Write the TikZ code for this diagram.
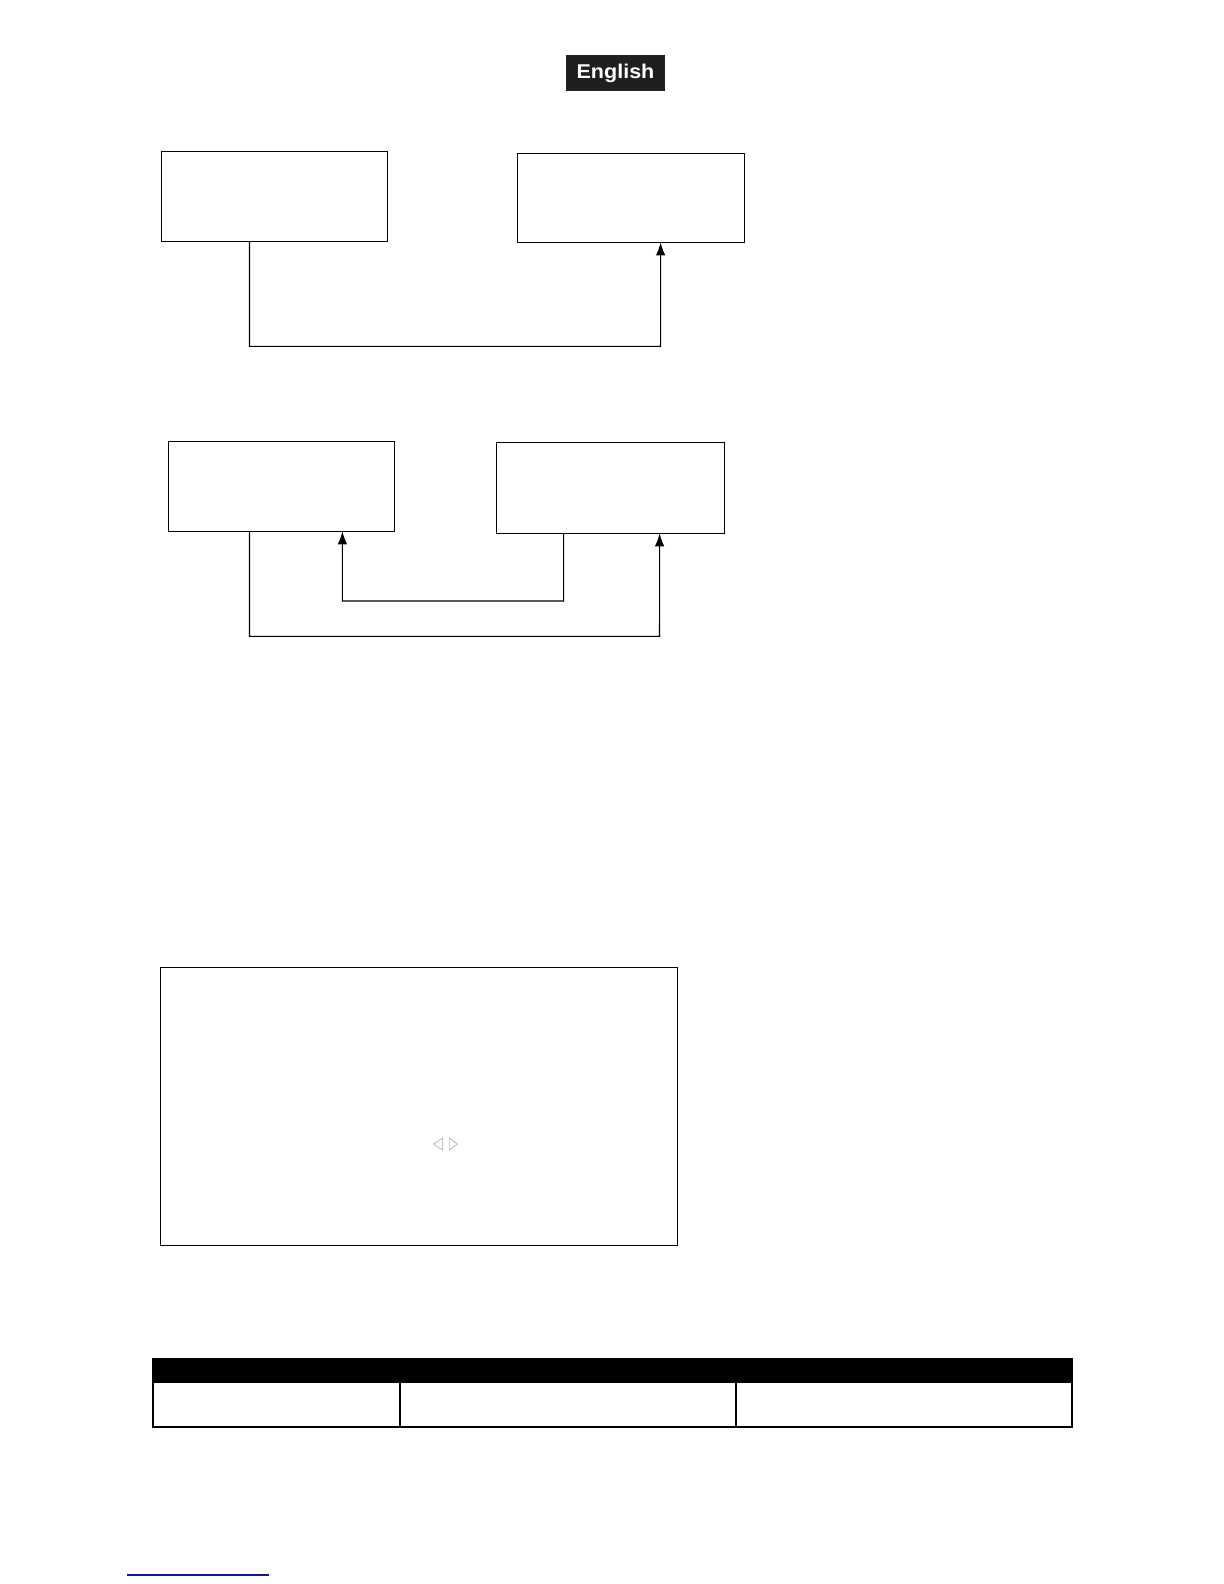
\documentclass[tikz,border=0pt]{standalone}
\usepackage{fontspec}
\setmainfont{Liberation Sans}
\usetikzlibrary{arrows.meta}
\begin{document}
\begin{tikzpicture}[x=1bp,y=-1bp,scale=1.01,
  box/.style={draw=black,line width=1.1pt,inner sep=0pt,transform shape},
  conn/.style={draw=black,line width=1.1pt},
  arr/.style={-{Latex[length=13bp,width=9.5bp]}},
  tri/.style={draw=gray!60,line width=0.7pt}]
\useasboundingbox (0,0) rectangle (1211.88,1568.32);
% header label
\node[fill=black!88,text=white,inner sep=0pt,transform shape,
  minimum width=98bp,minimum height=35.6bp] (lang) at (609.4,72.3)
  {\scalebox{1.08}[1]{\fontsize{19.8}{22}\selectfont\bfseries English}};
% first diagram
\node[box,minimum width=224bp,minimum height=89bp] (a) at (272,194.5) {};
\node[box,minimum width=225bp,minimum height=88bp] (b) at (624.5,196) {};
\coordinate (aout) at (247,239);
\coordinate (bin) at (654,240);
\draw[conn,arr] (aout) -- (247,343) -- (654,343) -- (bin);
% second diagram
\node[box,minimum width=224bp,minimum height=89bp] (c) at (279,481.5) {};
\node[box,minimum width=225bp,minimum height=90bp] (d) at (604.5,483) {};
\coordinate (cout) at (247,526);
\coordinate (cin) at (339,526);
\coordinate (dout) at (558,528);
\coordinate (din) at (653,528);
\draw[conn,arr] (dout) -- (558,595) -- (339,595) -- (cin);
\draw[conn,arr] (cout) -- (247,630) -- (653,630) -- (din);
% large box
\node[box,minimum width=512bp,minimum height=275bp] (big) at (415,1095.5) {};
\draw[tri] (438.3,1126.7) -- (438.3,1138.6) -- (429,1132.7) -- cycle;
\draw[tri] (444.9,1126.7) -- (444.9,1138.6) -- (452.8,1132.7) -- cycle;
% table
\fill[black] (151,1346) rectangle (1061,1369);
\draw[black,line width=2pt] (151,1346) rectangle (1061,1413);
\draw[black,line width=1.8pt] (396,1369) -- (396,1413);
\draw[black,line width=1.8pt] (729,1369) -- (729,1413);
% bottom link line
\draw[color={rgb,255:red,20;green,20;blue,140},line width=1.3pt] (126,1559.5) -- (266,1559.5);
\end{tikzpicture}
\end{document}
